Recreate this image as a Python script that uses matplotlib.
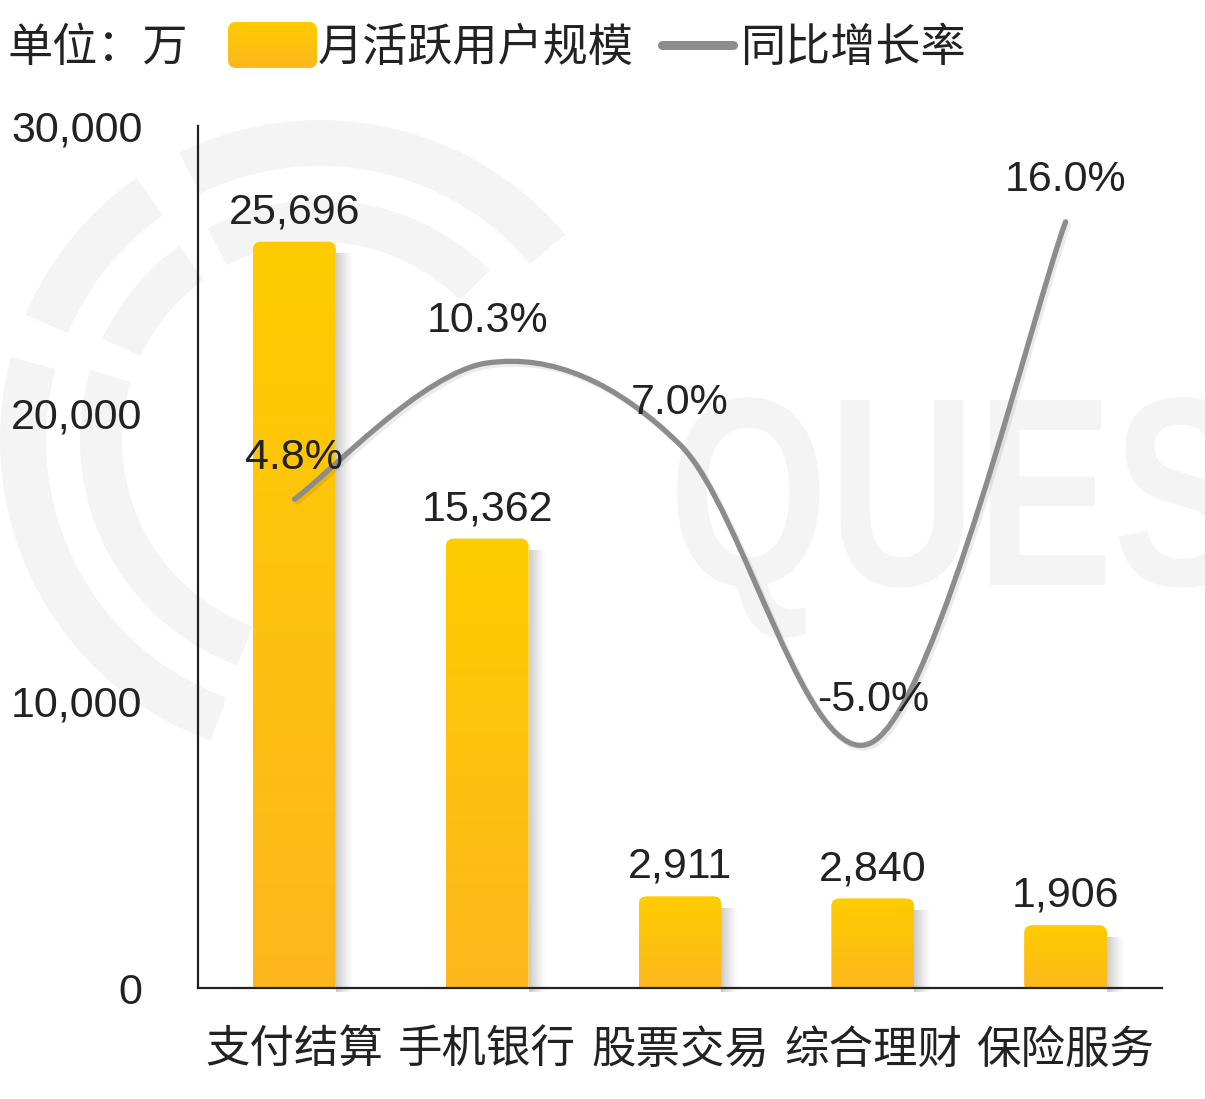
import numpy as np
import matplotlib
matplotlib.use("Agg")
import matplotlib.pyplot as plt
import matplotlib.transforms as mtransforms
import matplotlib.patheffects as pe
from matplotlib.patches import FancyBboxPatch, Wedge, PathPatch
from matplotlib.path import Path
from matplotlib.textpath import TextPath
from matplotlib.font_manager import FontProperties
from matplotlib.lines import Line2D
from matplotlib.colors import LinearSegmentedColormap

# data (月活跃用户规模, 单位: 万 ; 同比增长率, %)
categories = ["支付结算", "手机银行", "股票交易", "综合理财", "保险服务"]
users = [25696, 15362, 2911, 2840, 1906]
growth = [4.8, 10.3, 7.0, -5.0, 16.0]
yticks = [0, 10000, 20000, 30000]

W, H = 1205, 1099
TEXT = "#222222"
GREY = "#8c8c8c"
WM = "#f4f4f4"

plt.rcParams["font.family"] = ["Liberation Sans", "Noto Sans CJK SC", "DejaVu Sans"]

fig = plt.figure(figsize=(W / 100, H / 100), dpi=100)


def fx(px):
    return px / W


def fy(py):
    return 1 - py / H


# ---- watermark (drawn in pixel space, behind everything) ----
ident = mtransforms.IdentityTransform()
cx, cy = 320, H - 440
for r_out, r_in, spans in [(320, 274, [(40, 116), (125, 157), (165, 250)]),
                           (240, 198, [(45, 118), (126, 155), (163, 250)])]:
    for a0, a1 in spans:
        w = Wedge((cx, cy), r_out, a0, a1, width=r_out - r_in, transform=ident,
                  facecolor=WM, edgecolor="none", zorder=-5)
        fig.add_artist(w)

fp_wm = FontProperties(family="Liberation Sans", weight="bold")
ext_que = TextPath((0, 0), "QUE", size=100, prop=fp_wm).get_extents()
ext_e = TextPath((0, 0), "E", size=100, prop=fp_wm).get_extents()
sx = 428 / ext_que.width
sy = 185 / ext_e.height
wm_path = TextPath((0, 0), "QUES", size=100, prop=fp_wm)
wm_tr = mtransforms.Affine2D().translate(-ext_que.x0, 0).scale(sx, sy).translate(677, H - 585)
fig.add_artist(PathPatch(wm_tr.transform_path(wm_path), transform=ident,
                         facecolor=WM, edgecolor="none", zorder=-5))

# ---- main axes ----
ax = fig.add_axes([fx(198), fy(988), fx(1162) - fx(198), fy(126) - fy(988)])
ax.patch.set_visible(False)
ax.set_xlim(-0.5, len(categories) - 0.5)
ax.set_ylim(0, 30000)
ax.set_autoscale_on(False)

x = np.arange(len(categories))
bars = ax.bar(x, users, width=0.43, color="none", edgecolor="none")

px_x = ax.transData.transform((1, 0))[0] - ax.transData.transform((0, 0))[0]
px_y = ax.transData.transform((0, 1))[1] - ax.transData.transform((0, 0))[1]
shift = mtransforms.ScaledTranslation(0, 0.08, fig.dpi_scale_trans)
btrans = ax.transData + shift
ext = 12 / px_y          # bar foot hangs a bit below the axis line
rad = 8 / px_x

grad = np.linspace(0, 1, 256).reshape(-1, 1)
cmap = LinearSegmentedColormap.from_list("bar", ["#FDB71E", "#FFCC00"])
shadow = np.zeros((1, 64, 4))
shadow[..., :3] = 0.5
shadow[..., 3] = np.linspace(0.5, 0.0, 64) ** 1.3

for rect in bars:
    x0, w, h = rect.get_x(), rect.get_width(), rect.get_height()
    # soft shadow on the right
    sh = ax.imshow(shadow, extent=(x0 + w, x0 + w + 18 / px_x, -ext, h - 12 / px_y),
                   transform=btrans, aspect="auto", zorder=1, interpolation="bilinear")
    sh.set_clip_on(False)
    body = FancyBboxPatch((x0, -ext), w, h + ext,
                          boxstyle=f"round,pad=0,rounding_size={rad}",
                          mutation_aspect=px_x / px_y, transform=btrans,
                          facecolor="none", edgecolor="none", clip_on=False)
    ax.add_patch(body)
    im = ax.imshow(grad, extent=(x0, x0 + w, -ext, h), origin="lower", cmap=cmap,
                   transform=btrans, aspect="auto", zorder=2, interpolation="bilinear")
    im.set_clip_path(body)
    im.set_clip_box(None)
    ax.annotate(f"{int(h):,}", (rect.get_x() + w / 2, h), xytext=(0, 19),
                textcoords="offset points", ha="center", va="baseline",
                fontsize=31, color=TEXT, zorder=5)

ax.set_xticks(x)
ax.set_xticklabels(categories, fontsize=32, color=TEXT)
ax.set_yticks(yticks)
ax.set_yticklabels([f"{v:,}" for v in yticks], fontsize=31, color=TEXT)
ax.tick_params(axis="both", length=0)
ax.tick_params(axis="y", pad=40)
ax.tick_params(axis="x", pad=30)
for s in ["top", "right"]:
    ax.spines[s].set_visible(False)
for s in ["left", "bottom"]:
    ax.spines[s].set_color(TEXT)
    ax.spines[s].set_linewidth(1.6)

# ---- growth line on hidden secondary axis ----
ax2 = ax.twinx()
ax2.set_ylim(-14.94, 19.87)
ax2.set_xlim(ax.get_xlim())
ax2.axis("off")

pts = np.column_stack([x.astype(float), np.array(growth)])
n = len(pts)
verts = [pts[0]]
codes = [Path.MOVETO]
for i in range(n - 1):
    p0 = pts[i - 1] if i > 0 else pts[i]
    p1, p2 = pts[i], pts[i + 1]
    p3 = pts[i + 2] if i + 2 < n else pts[i + 1]
    verts += [p1 + (p2 - p0) / 6, p2 - (p3 - p1) / 6, p2]
    codes += [Path.CURVE4] * 3
curve = PathPatch(Path(verts, codes), fill=False, edgecolor=GREY, lw=3.8,
                  capstyle="round", joinstyle="round", transform=ax2.transData,
                  path_effects=[pe.SimpleLineShadow(offset=(2, -2), shadow_color="#000000",
                                                    alpha=0.08), pe.Normal()])
ax2.add_patch(curve)
for xi, v in zip(x, growth):
    ax2.annotate(f"{v:.1f}%", (xi, v), xytext=(0, 22), textcoords="offset points",
                 ha="center", va="baseline", fontsize=31, color=TEXT)

# ---- legend row ----
fig.text(fx(8), fy(49), "单位：万", fontsize=32.5, color=TEXT, ha="left", va="center")

lg = fig.add_axes([fx(228), fy(68), fx(317) - fx(228), fy(22) - fy(68)])
lg.axis("off")
lg.set_xlim(0, 1)
lg.set_ylim(0, 1)
sw = FancyBboxPatch((0, 0), 1, 1, boxstyle=f"round,pad=0,rounding_size={8 / 89}",
                    mutation_aspect=89 / 46, transform=lg.transAxes,
                    facecolor="none", edgecolor="none")
lg.add_patch(sw)
lim = lg.imshow(grad, extent=(0, 1, 0, 1), origin="lower", cmap=cmap, aspect="auto")
lim.set_clip_path(sw)

fig.text(fx(318), fy(49), "月活跃用户规模", fontsize=32.5, color=TEXT, ha="left", va="center")
fig.add_artist(Line2D([fx(662), fx(733)], [fy(45), fy(45)], transform=fig.transFigure,
                      color=GREY, lw=6.5, solid_capstyle="round"))
fig.text(fx(740), fy(49), "同比增长率", fontsize=32.5, color=TEXT, ha="left", va="center")

fig.savefig("out.png", dpi=100)
